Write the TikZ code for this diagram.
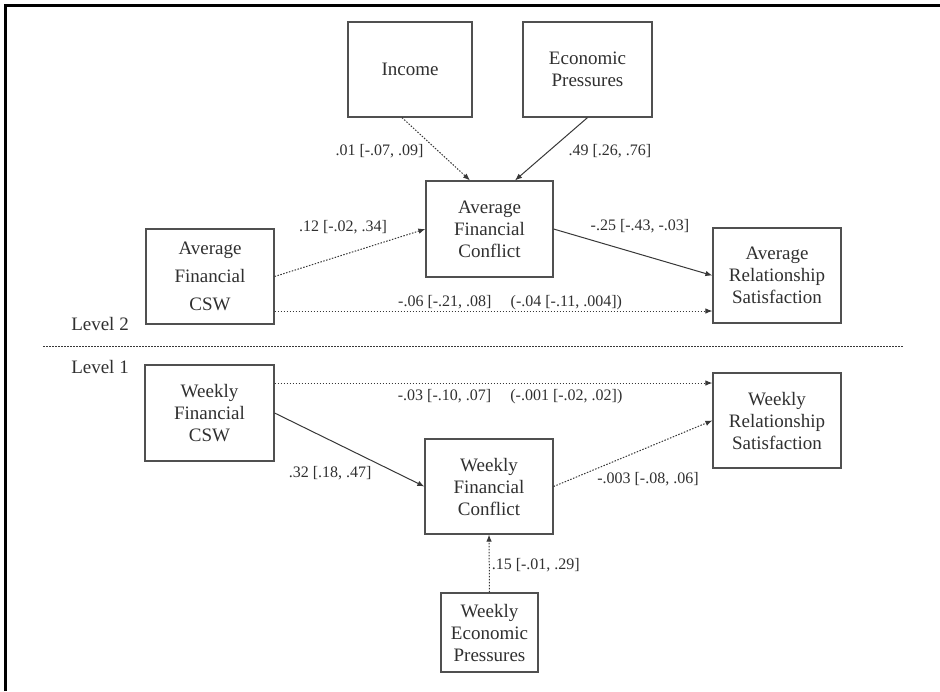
\documentclass[tikz,border=0pt]{standalone}
\usepackage{fontspec}
\setmainfont{Liberation Serif}
\usetikzlibrary{arrows.meta}
\definecolor{boxc}{HTML}{505050}
\definecolor{txtc}{HTML}{303030}
\definecolor{linec}{HTML}{383838}
\begin{document}
\begin{tikzpicture}[x=1pt,y=-1pt,
  box/.style={draw=boxc, line width=1.2pt, align=center, inner sep=0pt,
    font=\fontsize{19}{22}\selectfont, text=txtc},
  lbl/.style={font=\fontsize{16}{19}\selectfont, text=txtc, inner sep=0pt},
  lvl/.style={font=\fontsize{19}{22}\selectfont, text=txtc, inner sep=0pt},
  solidarrow/.style={draw=linec, line width=1pt, -{Latex[length=7pt,width=5.5pt]}},
  dotarrow/.style={solidarrow, dash pattern=on 1.5pt off 1.5pt}
]
\useasboundingbox (0,0) rectangle (940,691);
\fill[white] (0,0) rectangle (940,691);
% frame (left and top)
\draw[line width=3pt, black] (5,691) -- (5,5) -- (940,5);

% nodes
\node[box, minimum width=124pt, minimum height=95pt] (inc) at (410,69.5) {Income};
\node[box, minimum width=129pt, minimum height=95pt] (ep) at (587.5,69.5) {Economic\\Pressures};
\node[box, minimum width=127pt, minimum height=96pt] (afc) at (489.5,229) {Average\\Financial\\Conflict};
\node[box, minimum width=128pt, minimum height=95pt] (acsw) at (210,276.5) {Average\\[6pt]Financial\\[6pt]CSW};
\node[box, minimum width=128pt, minimum height=95pt] (ars) at (777,275.5) {Average\\Relationship\\Satisfaction};

\node[lvl] (lv2) at (100,324) {Level 2};
\node[lvl] (lv1) at (100,367) {Level 1};
\coordinate (sepl) at (43,346);
\coordinate (sepr) at (903,346);
\draw[linec, line width=1pt, dash pattern=on 1.5pt off 1.5pt] (sepl) -- (sepr);

\node[box, minimum width=129pt, minimum height=96pt] (wcsw) at (209.5,413) {Weekly\\Financial\\CSW};
\node[box, minimum width=128pt, minimum height=95pt] (wfc) at (489,486.5) {Weekly\\Financial\\Conflict};
\node[box, minimum width=128pt, minimum height=95pt] (wrs) at (777,420.5) {Weekly\\Relationship\\Satisfaction};
\node[box, minimum width=97pt, minimum height=79pt] (wep) at (489.5,632.5) {Weekly\\Economic\\Pressures};

% level 2 connectors
\draw[dotarrow] ([xshift=-8pt]inc.south) -- ([xshift=-19.5pt]afc.north)
  node[lbl, pos=0.53, anchor=east, xshift=-14pt] {.01 [-.07, .09]};
\draw[solidarrow] (ep.south) -- ([xshift=25.5pt]afc.north)
  node[lbl, pos=0.53, anchor=west, xshift=19pt] {.49 [.26, .76]};
\draw[dotarrow] (acsw.east) -- (afc.west)
  node[lbl, pos=0.454, yshift=27.7pt] {.12 [-.02, .34]};
\draw[solidarrow] (afc.east) -- (ars.west)
  node[lbl, pos=0.544, yshift=28pt] {-.25 [-.43, -.03]};
\draw[dotarrow] ([yshift=-34.5pt]acsw.east) -- ([yshift=-35.5pt]ars.west)
  node[lbl, pos=0.538, yshift=8pt] {-.06 [-.21, .08]\hspace{1.2em}(-.04 [-.11, .004])};

% level 1 connectors
\draw[dotarrow] ([yshift=30pt]wcsw.east) -- ([yshift=37.5pt]wrs.west)
  node[lbl, pos=0.538, yshift=-14pt] {-.03 [-.10, .07]\hspace{1.2em}(-.001 [-.02, .02])};
\draw[solidarrow] (wcsw.east) -- (wfc.west)
  node[lbl, pos=0.371, yshift=-33pt] {.32 [.18, .47]};
\draw[dotarrow] (wfc.east) -- (wrs.west)
  node[lbl, pos=0.594, yshift=-32pt] {-.003 [-.08, .06]};
\draw[dotarrow] (wep.north) -- (wfc.south)
  node[lbl, pos=0.475, anchor=west, xshift=2pt] {.15 [-.01, .29]};
\end{tikzpicture}
\end{document}
